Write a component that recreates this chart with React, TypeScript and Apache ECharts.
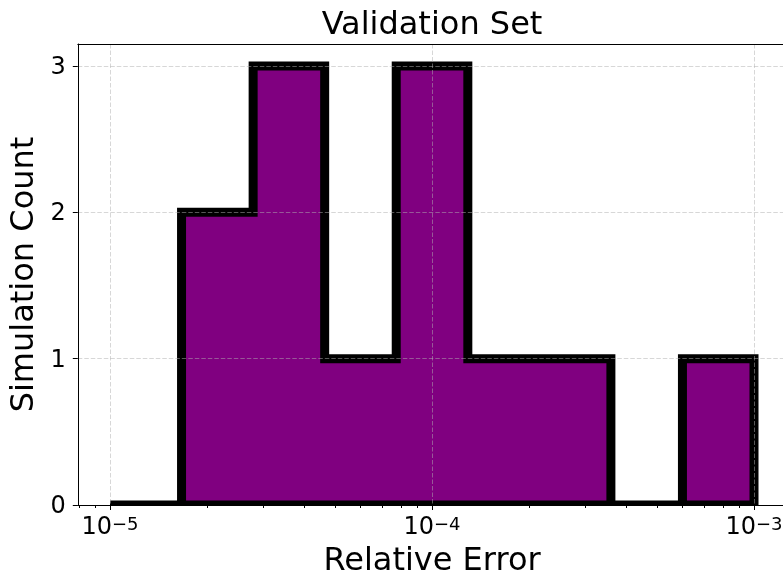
import { useEffect, useRef } from "react";
import * as echarts from "echarts";

// Histogram bin edges (relative error, log-spaced) and counts per bin
const binEdges = [1e-5, 1.668e-5, 2.783e-5, 4.642e-5, 7.743e-5, 1.292e-4, 2.154e-4, 3.594e-4, 5.995e-4, 1e-3];
const simulationCounts = [0, 2, 3, 1, 3, 1, 1, 0, 1];
const majorTickExponents = [-5, -4, -3];
const yTicks = [0, 1, 2, 3];

const X_MIN = -5.1;
const X_MAX = -2.9;
const Y_MAX = 3.15;
const FONT = "DejaVu Sans";

export default function App() {
  const ref = useRef<HTMLDivElement>(null);
  useEffect(() => {
    const chart = echarts.init(ref.current!, null, { renderer: "svg" });
    const logEdges = binEdges.map((v) => Math.log10(v));
    const outline: number[][] = [[logEdges[0], 0]];
    simulationCounts.forEach((c, i) => {
      outline.push([logEdges[i], c], [logEdges[i + 1], c]);
    });
    outline.push([logEdges[logEdges.length - 1], 0]);
    const pts = outline.filter(
      (p, i) => i === 0 || p[0] !== outline[i - 1][0] || p[1] !== outline[i - 1][1]
    );
    const minorTicks: number[] = [];
    for (let e = -6; e <= -3; e++) {
      for (let k = 2; k <= 9; k++) {
        const v = Math.log10(k) + e;
        if (v > X_MIN && v < X_MAX) minorTicks.push(v);
      }
    }
    const black = { color: "#000", width: 1 };
    const gridLine = { color: "rgba(176,176,176,0.5)", width: 1, type: [4.5, 2] as any };
    const LW = 9;

    chart.setOption({
      animation: false,
      textStyle: { fontFamily: FONT },
      grid: { left: 77.8, top: 44, width: 708.4, height: 461, containLabel: false, outerBoundsMode: "none" } as any,
      xAxis: [
        {
          type: "value",
          min: X_MIN,
          max: X_MAX,
          position: "bottom",
          z: 10,
          axisLine: { show: true, onZero: false, lineStyle: black },
          axisTick: { show: true, customValues: majorTickExponents, length: 5, lineStyle: black },
          axisLabel: {
            customValues: majorTickExponents,
            margin: 9,
            color: "#000",
            formatter: (v: number) => `{b|10}{s|\u2212${Math.abs(Math.round(v))}}`,
            rich: {
              b: { fontSize: 24, fontFamily: FONT, color: "#000", verticalAlign: "bottom" },
              s: { fontSize: 18, fontFamily: FONT, color: "#000", verticalAlign: "top" },
            },
          },
          splitLine: { show: true, lineStyle: gridLine },
          name: "Relative Error",
          nameLocation: "middle",
          nameGap: 38,
          nameTextStyle: { fontSize: 32, color: "#000", fontFamily: FONT },
        },
        {
          type: "value",
          min: X_MIN,
          max: X_MAX,
          position: "bottom",
          z: 10,
          axisLine: { show: false, onZero: false },
          axisTick: { show: true, customValues: minorTicks, length: 3, lineStyle: black },
          axisLabel: { show: false },
          splitLine: { show: false },
        },
        {
          type: "value",
          min: X_MIN,
          max: X_MAX,
          position: "top",
          z: 10,
          axisLine: { show: true, onZero: false, lineStyle: black },
          axisTick: { show: false },
          axisLabel: { show: false },
          splitLine: { show: false },
          name: "Validation Set",
          nameLocation: "middle",
          nameGap: 5,
          nameTextStyle: { fontSize: 32, color: "#000", fontFamily: FONT },
        },
      ],
      yAxis: {
        type: "value",
        min: 0,
        max: Y_MAX,
        z: 9,
        axisLine: { show: true, onZero: false, lineStyle: black },
        axisTick: { show: true, customValues: yTicks, length: 5, lineStyle: black },
        axisLabel: { customValues: yTicks, fontSize: 24, margin: 12, color: "#000", fontFamily: FONT },
        splitLine: { show: true, lineStyle: gridLine },
        name: "Simulation Count",
        nameLocation: "middle",
        nameGap: 40,
        nameRotate: 90,
        nameTextStyle: { fontSize: 32, color: "#000", fontFamily: FONT },
      },
      series: [
        {
          type: "custom",
          xAxisIndex: 0,
          yAxisIndex: 0,
          z: 2,
          clip: false,
          data: [[logEdges[0], 0]],
          renderItem: (_params: any, api: any) => {
            const px = pts.map((p) => api.coord(p));
            const b0 = api.coord([logEdges[0], 0]);
            const b1 = api.coord([logEdges[logEdges.length - 1], 0]);
            return {
              type: "group",
              children: [
                { type: "polygon", shape: { points: px }, style: { fill: "#800080", stroke: null } },
                {
                  type: "polygon",
                  shape: { points: px },
                  style: { fill: null, stroke: "#000", lineWidth: LW, lineJoin: "miter", miterLimit: 10 },
                },
                {
                  type: "rect",
                  shape: { x: b0[0] - LW, y: b0[1], width: b1[0] - b0[0] + 2 * LW, height: LW },
                  style: { fill: "#fff", stroke: null },
                },
              ],
            };
          },
        },
      ],
    });
    return () => chart.dispose();
  }, []);
  return <div ref={ref} style={{ position: "fixed", left: 0, top: 0, width: 783, height: 577 }} />;
}
